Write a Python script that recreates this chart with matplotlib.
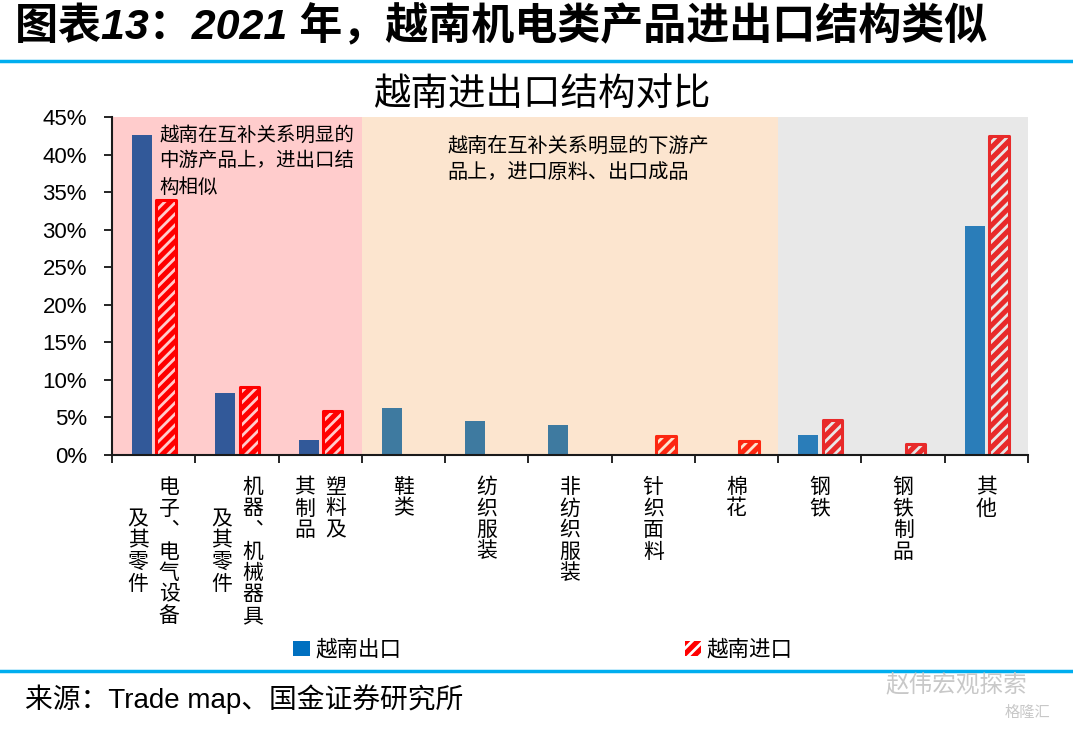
import matplotlib
matplotlib.use('Agg')
import matplotlib.pyplot as plt
from matplotlib.patches import Patch
import numpy as np

# data (share of total, %)
categories = [
  ['电子︑电气设备', '及其零件'],
  ['机器︑机械器具', '及其零件'],
  ['塑料及', '其制品'],
  ['鞋类'],
  ['纺织服装'],
  ['非纺织服装'],
  ['针织面料'],
  ['棉花'],
  ['钢铁'],
  ['钢铁制品'],
  ['其他'],
]
export_vals = [42.6, 8.3, 2.0, 6.3, 4.5, 4.0, 0, 0, 2.6, 0, 30.5]
import_vals = [34.0, 9.0, 5.9, 0, 0, 0, 2.5, 1.8, 4.6, 1.5, 42.5]
yticks = [0, 5, 10, 15, 20, 25, 30, 35, 40, 45]

# shaded groups: (first index, last index, colour, alpha)
groups = [(0, 2, '#FF0000', 0.20), (3, 7, '#F79B43', 0.255), (8, 10, '#A5A5A5', 0.255)]
note_mid = ['越南在互补关系明显的', '中游产品上，进出口结', '构相似']
note_down = ['越南在互补关系明显的下游产', '品上，进口原料、出口成品']

title = '图表13：2021 年，越南机电类产品进出口结构类似'
chart_title = '越南进出口结构对比'
source = '来源：Trade map、国金证券研究所'

CJK = ['Noto Sans CJK SC', 'DejaVu Sans']
MIX = ['Liberation Sans', 'Noto Sans CJK SC']
plt.rcParams['font.family'] = CJK
plt.rcParams['hatch.linewidth'] = 2.0

BLUE = '#0070C0'
RED = '#FF0000'
LINE = '#00AEEF'

fig = plt.figure(figsize=(10.73, 7.31), dpi=100)
W, H = 1073, 731

def fx(px):
  return px / W

def fy(py):
  return 1 - py / H

# header
fig.text(fx(15), fy(27), title, family=MIX, fontsize=31, fontweight='bold',
         style='italic', ha='left', va='center')
fig.add_artist(plt.Line2D([0, 1], [fy(61), fy(61)], color=LINE, lw=2.5))

ax = fig.add_axes([fx(112), fy(455), fx(1028) - fx(112), fy(117) - fy(455)])
x = np.arange(len(categories))

ex = np.array(export_vals)
im = np.array(import_vals)
m1 = ex > 0
m2 = im > 0
ax.bar(x[m1] - 0.14, ex[m1], width=0.24, color=BLUE, zorder=1)
ax.bar(x[m2] + 0.15, im[m2], width=0.235, color=RED, edgecolor='white',
       hatch='///', linewidth=0, zorder=1)
ax.bar(x[m2] + 0.15, im[m2], width=0.235, color='none', edgecolor=RED,
       linewidth=2.2, joinstyle='round', zorder=1.2)

for a, b, c, al in groups:
  ax.fill_between([a - 0.5, b + 0.5], 0, 45, color=c, alpha=al, lw=0, zorder=2)

ax.set_xlim(-0.5, len(categories) - 0.5)
ax.set_ylim(0, 45)
ax.set_yticks(yticks)
ax.set_yticklabels([f'{v}%' for v in yticks], family=MIX, fontsize=16)
ax.set_xticks(np.arange(-0.5, len(categories), 1))
ax.set_xticklabels([])
ax.tick_params(axis='y', direction='out', length=6, width=1.2, pad=12)
ax.tick_params(axis='x', direction='out', length=6, width=1.2)
for s in ['top', 'right']:
  ax.spines[s].set_visible(False)
for s in ['left', 'bottom']:
  ax.spines[s].set_linewidth(1.5)
  ax.spines[s].set_color('#1a1a1a')
  ax.spines[s].set_zorder(3)

# vertical (stacked) category labels, columns read right to left
pitch = 21.5 * 0.72   # points between characters
colgap = 31 * 0.72
first = 32 * 0.72
for i, cols in enumerate(categories):
  n = len(cols)
  longest = max(len(c) for c in cols)
  mid = first + (longest - 1) * pitch / 2
  for k, col in enumerate(cols):
    dx = ((n - 1) / 2 - k) * colgap
    start = mid - (len(col) - 1) * pitch / 2
    for j, ch in enumerate(col):
      ax.annotate(ch, xy=(i, 0), xycoords=('data', 'axes fraction'),
                  xytext=(dx, -(start + j * pitch)), textcoords='offset points',
                  ha='center', va='center', fontsize=15, annotation_clip=False)

# notes inside the shaded areas
for j, line in enumerate(note_mid):
  fig.text(fx(159), fy(135 + 26 * j), line, fontsize=14, ha='left', va='center', zorder=4)
for j, line in enumerate(note_down):
  fig.text(fx(447), fy(146 + 26 * j), line, fontsize=14.5, ha='left', va='center', zorder=4)

fig.text(fx(542), fy(94), chart_title, fontsize=27, ha='center', va='center')

# legend
handles = [Patch(facecolor=BLUE, linewidth=0),
           Patch(facecolor=RED, edgecolor='white', hatch='///', linewidth=0)]
fig.legend(handles, ['越南出口', '越南进口'], ncol=2, loc='center',
           bbox_to_anchor=(fx(543), fy(650)), frameon=False, fontsize=15.5,
           handlelength=0.75, handleheight=0.75, handletextpad=0.25,
           columnspacing=13.2)

# footer
fig.add_artist(plt.Line2D([0, 1], [fy(671), fy(671)], color=LINE, lw=2.5))
fig.text(fx(25), fy(699), source, family=MIX, fontsize=20, ha='left', va='center')
fig.text(fx(885), fy(685), '赵伟宏观探索', fontsize=17, color='#C8C8C8', ha='left', va='center')
fig.text(fx(1005), fy(712), '格隆汇', fontsize=11, color='#C8C8C8', ha='left', va='center')

fig.savefig('out.png', dpi=100)
